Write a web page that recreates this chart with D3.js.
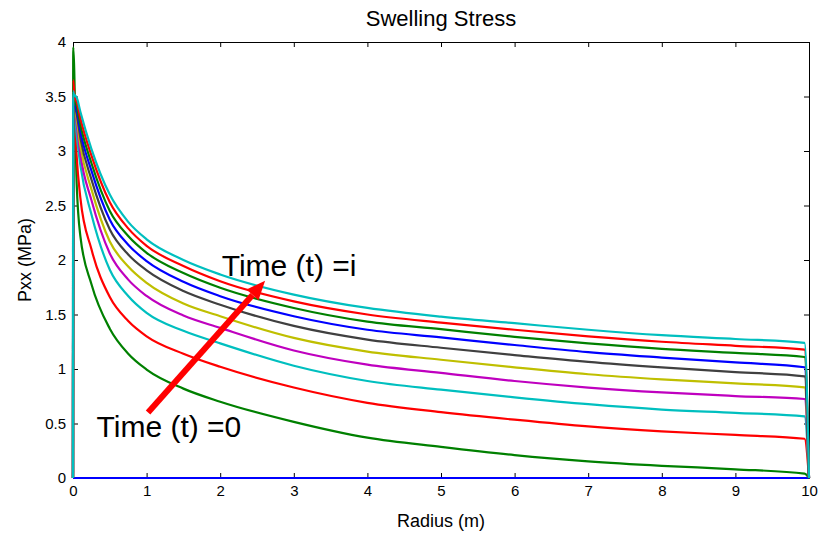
<!DOCTYPE html>
<html>
<head>
<meta charset="utf-8">
<script src="https://cdn.jsdelivr.net/npm/d3@7"></script>
<style>
  html, body { margin: 0; padding: 0; background: #fff; }
  svg { display: block; font-family: "Liberation Sans", Arial, Helvetica, sans-serif; }
  .axis path, .axis line { stroke: #000; }
  .axis text { font-size: 15px; fill: #000; }
</style>
</head>
<body>
<div id="chart"></div>
<script>
// sample radii (m)
const radius = [0, 0.003, 0.05, 0.1, 0.25, 0.5, 0.75, 1, 1.5, 2, 3, 4, 5, 6, 7, 8, 9, 9.94, 10]

// Pxx (MPa) per time step, lowest to highest
const pxxT0  = radius.map(() => 0)
const pxxT1  = [0, 3.95, 2.70, 2.22, 1.78, 1.37, 1.14, 0.995, 0.82, 0.70, 0.515, 0.37, 0.285, 0.21, 0.153, 0.112, 0.08, 0.04, 0]
const pxxT2  = [0, 3.65, 2.95, 2.57, 2.10, 1.66, 1.44, 1.30, 1.14, 1.02, 0.83, 0.69, 0.605, 0.535, 0.473, 0.428, 0.395, 0.36, 0]
const pxxT3  = [0, 3.55, 3.15, 2.87, 2.42, 1.91, 1.67, 1.515, 1.35, 1.235, 1.03, 0.89, 0.81, 0.74, 0.677, 0.628, 0.598, 0.566, 0]
const pxxT4  = [0, 3.49, 3.25, 2.97, 2.55, 2.06, 1.82, 1.67, 1.49, 1.377, 1.17, 1.04, 0.965, 0.89, 0.83, 0.785, 0.752, 0.725, 0]
const pxxT5  = [0, 3.47, 3.30, 3.05, 2.65, 2.17, 1.94, 1.79, 1.60, 1.484, 1.285, 1.16, 1.085, 1.015, 0.952, 0.905, 0.868, 0.832, 0]
const pxxT6  = [0, 3.45, 3.34, 3.12, 2.74, 2.28, 2.05, 1.905, 1.715, 1.59, 1.395, 1.27, 1.195, 1.128, 1.065, 1.015, 0.972, 0.933, 0]
const pxxT7  = [0, 3.45, 3.37, 3.18, 2.82, 2.37, 2.14, 1.99, 1.80, 1.668, 1.484, 1.36, 1.29, 1.22, 1.155, 1.105, 1.06, 1.016, 0]
const pxxT8  = [0, 3.47, 3.41, 3.24, 2.89, 2.45, 2.22, 2.066, 1.88, 1.745, 1.56, 1.435, 1.365, 1.295, 1.235, 1.185, 1.148, 1.11, 0]
const pxxT9  = [0, 3.49, 3.45, 3.30, 2.96, 2.53, 2.29, 2.13, 1.945, 1.805, 1.62, 1.50, 1.425, 1.36, 1.30, 1.25, 1.213, 1.178, 0]
const pxxT10 = [0, 3.52, 3.49, 3.36, 3.02, 2.60, 2.35, 2.19, 2.00, 1.867, 1.683, 1.56, 1.48, 1.42, 1.36, 1.31, 1.275, 1.24, 0]

const seriesValues = [pxxT0, pxxT1, pxxT2, pxxT3, pxxT4, pxxT5, pxxT6, pxxT7, pxxT8, pxxT9, pxxT10]
// matlab default colour order
const seriesColors = ['#0000ff', '#008000', '#ff0000', '#00bfbf', '#bf00bf', '#bfbf00', '#404040',
                      '#0000ff', '#008000', '#ff0000', '#00bfbf']

const xTicks = [0, 1, 2, 3, 4, 5, 6, 7, 8, 9, 10]
const yTicks = [0, 0.5, 1, 1.5, 2, 2.5, 3, 3.5, 4]

// annotation anchors in data units
const arrowFrom = [1.02, 0.60]
const arrowTo = [2.61, 1.81]
const labelEnd = { text: 'Time (t) =i', x: 2.02, y: 1.85 }
const labelStart = { text: 'Time (t) =0', x: 0.32, y: 0.38 }

const width = 819
const height = 534
const margin = { top: 42, right: 10, bottom: 56, left: 73 }
const innerW = width - margin.left - margin.right
const innerH = height - margin.top - margin.bottom

const svg = d3.select('#chart')
  .append('svg')
  .attr('width', width)
  .attr('height', height)

const x = d3.scaleLinear().domain([0, 10]).range([0, innerW])
const y = d3.scaleLinear().domain([0, 4]).range([innerH, 0])

const g = svg.append('g')
  .attr('transform', `translate(${margin.left},${margin.top})`)

// Axes, ticks pointing inside like matlab
g.append('g')
  .attr('class', 'axis')
  .attr('transform', `translate(0,${innerH})`)
  .call(d3.axisBottom(x).tickValues(xTicks).tickSizeInner(-5).tickSizeOuter(0).tickPadding(7).tickFormat(d3.format('d')))

g.append('g')
  .attr('class', 'axis')
  .call(d3.axisLeft(y).tickValues(yTicks).tickSizeInner(-5).tickSizeOuter(0).tickPadding(7).tickFormat(d => String(d)))

g.append('g')
  .attr('class', 'axis')
  .call(d3.axisTop(x).tickValues(xTicks).tickSizeInner(-5).tickSizeOuter(0).tickFormat(''))

g.append('g')
  .attr('class', 'axis')
  .attr('transform', `translate(${innerW},0)`)
  .call(d3.axisRight(y).tickValues(yTicks).tickSizeInner(-5).tickSizeOuter(0).tickFormat(''))

// Curves
const line = d3.line()
  .x(d => x(d[0]))
  .y(d => y(d[1]))
  .curve(d3.curveMonotoneX)

seriesValues.forEach((vals, i) => {
  g.append('path')
    .datum(radius.map((r, j) => [r, vals[j]]))
    .attr('fill', 'none')
    .attr('stroke', seriesColors[i])
    .attr('stroke-width', 2.2)
    .attr('stroke-linejoin', 'round')
    .attr('d', line)
})

// Arrow annotation
const ax0 = x(arrowFrom[0]), ay0 = y(arrowFrom[1])
const ax1 = x(arrowTo[0]), ay1 = y(arrowTo[1])
const ang = Math.atan2(ay1 - ay0, ax1 - ax0)
const headLen = 19
const headHalf = 8
const bx = ax1 - headLen * Math.cos(ang)
const by = ay1 - headLen * Math.sin(ang)

g.append('line')
  .attr('x1', ax0).attr('y1', ay0)
  .attr('x2', bx).attr('y2', by)
  .attr('stroke', '#ff0000')
  .attr('stroke-width', 6)

g.append('path')
  .attr('d', `M${ax1},${ay1}L${bx - headHalf * Math.sin(ang)},${by + headHalf * Math.cos(ang)}L${bx + headHalf * Math.sin(ang)},${by - headHalf * Math.cos(ang)}Z`)
  .attr('fill', '#ff0000')

g.selectAll('.note')
  .data([labelEnd, labelStart])
  .join('text')
  .attr('class', 'note')
  .attr('x', d => x(d.x))
  .attr('y', d => y(d.y))
  .attr('font-size', 30)
  .attr('fill', '#000')
  .text(d => d.text)

// Titles
svg.append('text')
  .attr('x', margin.left + innerW / 2)
  .attr('y', 26)
  .attr('text-anchor', 'middle')
  .attr('font-size', 22)
  .text('Swelling Stress')

svg.append('text')
  .attr('x', margin.left + innerW / 2)
  .attr('y', 527)
  .attr('text-anchor', 'middle')
  .attr('font-size', 18)
  .text('Radius (m)')

svg.append('text')
  .attr('transform', `translate(31,${margin.top + innerH / 2}) rotate(-90)`)
  .attr('text-anchor', 'middle')
  .attr('font-size', 18)
  .text('Pxx (MPa)')
</script>
</body>
</html>
